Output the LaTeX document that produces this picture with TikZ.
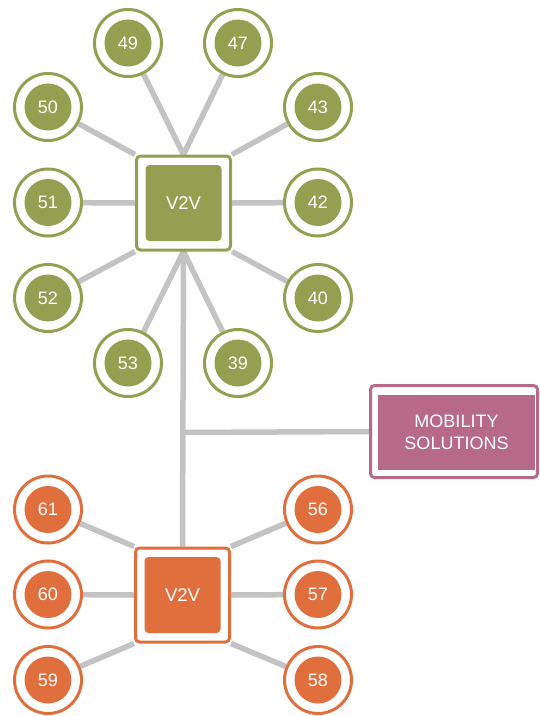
\documentclass[tikz,border=0pt]{standalone}
\usepackage{fontspec}
\setmainfont{Liberation Sans}
\usetikzlibrary{backgrounds}
\definecolor{vgreen}{HTML}{949F52}
\definecolor{vorange}{HTML}{E06F3D}
\definecolor{vmauve}{HTML}{B66A87}
\definecolor{spokegray}{HTML}{C3C3C3}
\tikzset{
  ring/.style={circle, draw=#1, line width=3pt, fill=white, minimum size=67pt, inner sep=0pt,
    text=white, font=\fontsize{18}{21}\selectfont,
    path picture={\fill[#1] (path picture bounding box.center) circle (23.5pt);}},
  vbox/.style={draw=#1, line width=3pt, fill=white, rounded corners=4pt, minimum size=94pt, inner sep=0pt,
    text=white, font=\fontsize{18.5}{21}\selectfont,
    path picture={\fill[#1] ([shift={(-38pt,-38pt)}]path picture bounding box.center) rectangle ([shift={(38pt,38pt)}]path picture bounding box.center);}},
  spoke/.style={draw=spokegray, line width=5.5pt}
}
\begin{document}
\begin{tikzpicture}[x=1pt,y=-1pt]
\useasboundingbox (0,0) rectangle (540,716);
% boxes
\node[vbox=vgreen] (top) at (183.5,203) {V2V};
\node[vbox=vorange] (bot) at (182.5,595) {V2V};
% green circles
\node[ring=vgreen] (c49) at (128,43) {49};
\node[ring=vgreen] (c47) at (238,43) {47};
\node[ring=vgreen] (c50) at (48,107) {50};
\node[ring=vgreen] (c43) at (318,107) {43};
\node[ring=vgreen] (c51) at (48,202.5) {51};
\node[ring=vgreen] (c42) at (318,202.5) {42};
\node[ring=vgreen] (c52) at (48,298) {52};
\node[ring=vgreen] (c40) at (318,298) {40};
\node[ring=vgreen] (c53) at (128,363) {53};
\node[ring=vgreen] (c39) at (238,363) {39};
% orange circles
\node[ring=vorange] (c61) at (48,509.5) {61};
\node[ring=vorange] (c60) at (48,594.5) {60};
\node[ring=vorange] (c59) at (48,680) {59};
\node[ring=vorange] (c56) at (318,509.5) {56};
\node[ring=vorange] (c57) at (318,594.5) {57};
\node[ring=vorange] (c58) at (318,680) {58};
% mobility box
\node[draw=vmauve, line width=3pt, fill=white, rounded corners=4pt, minimum width=167pt, minimum height=92pt, inner sep=0pt] (mob) at (454,431.5) {};
\node[fill=vmauve, minimum width=157pt, minimum height=75pt, inner sep=0pt, text=white, align=center,
  font=\fontsize{18}{21.5}\selectfont] (mobin) at (456.5,432.5) {MOBILITY\\SOLUTIONS};
\coordinate (j) at (183,432.5);
\begin{pgfonlayer}{background}
\draw[spoke] (c49) -- (top.north);
\draw[spoke] (c47) -- (top.north);
\draw[spoke] (c50) -- (top.north west);
\draw[spoke] (c43) -- (top.north east);
\draw[spoke] (c51) -- (top.west);
\draw[spoke] (c42) -- (top.east);
\draw[spoke] (c52) -- (top.south west);
\draw[spoke] (c40) -- (top.south east);
\draw[spoke] (c53) -- (top.south);
\draw[spoke] (c39) -- (top.south);
\draw[spoke] (c61) -- (bot.north west);
\draw[spoke] (c60) -- (bot.west);
\draw[spoke] (c59) -- (bot.south west);
\draw[spoke] (c56) -- (bot.north east);
\draw[spoke] (c57) -- (bot.east);
\draw[spoke] (c58) -- (bot.south east);
\draw[spoke] (top.south) -- (bot.north);
\draw[spoke] (j) -- (mob.west);
\end{pgfonlayer}
\end{tikzpicture}
\end{document}
